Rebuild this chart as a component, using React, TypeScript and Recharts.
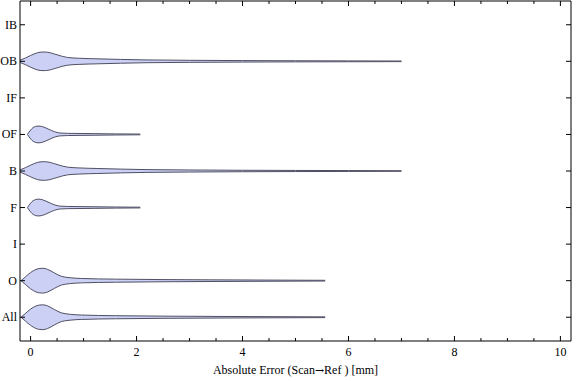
import React from "react";
import { ComposedChart, Area, XAxis, YAxis, Label } from "recharts";

// category order, bottom to top (y = index + 1)
const categories = ["All", "O", "I", "F", "B", "OF", "IF", "OB", "IB"];

// violin outlines: x position -> half width (in category units)
const wideX = [-0.25, -0.1, 0, 0.08, 0.18, 0.26, 0.35, 0.45, 0.52, 0.6, 0.7, 0.9, 1.27, 1.7, 2.2, 3, 4, 5, 6, 7];
const wideW = [0, 0.09, 0.16, 0.21, 0.25, 0.255, 0.24, 0.2, 0.17, 0.135, 0.105, 0.085, 0.068, 0.052, 0.038, 0.028, 0.02, 0.015, 0.012, 0.008];

const narrowX = [-0.06, 0, 0.05, 0.14, 0.22, 0.33, 0.45, 0.55, 0.7, 1.2, 1.6, 2.07];
const narrowW = [0, 0.12, 0.19, 0.23, 0.215, 0.15, 0.075, 0.04, 0.03, 0.022, 0.015, 0.01];

const mediumX = [-0.18, -0.1, -0.05, 0.05, 0.15, 0.23, 0.32, 0.45, 0.58, 0.75, 0.96, 1.6, 2.5, 3.5, 4.5, 5.56];
const mediumW = [0, 0.1, 0.165, 0.27, 0.33, 0.34, 0.31, 0.21, 0.12, 0.08, 0.06, 0.042, 0.03, 0.022, 0.016, 0.01];

const violinShape: Record<string, [number[], number[]]> = {
  OB: [wideX, wideW],
  B: [wideX, wideW],
  OF: [narrowX, narrowW],
  F: [narrowX, narrowW],
  O: [mediumX, mediumW],
  All: [mediumX, mediumW],
};

const xTicks = [0, 0.5, 1, 1.5, 2, 2.5, 3, 3.5, 4, 4.5, 5, 5.5, 6, 6.5, 7, 7.5, 8, 8.5, 9, 9.5, 10];
const yTicks = [1, 2, 3, 4, 5, 6, 7, 8, 9];

const FONT = "'Liberation Serif', 'DejaVu Serif', serif";

// merge the outlines into one table keyed by x
function buildRows() {
  const map = new Map<number, any>();
  Object.keys(violinShape).forEach((cat) => {
    const [xs, ws] = violinShape[cat];
    const c = categories.indexOf(cat) + 1;
    xs.forEach((x, i) => {
      if (!map.has(x)) map.set(x, { x });
      map.get(x)[cat] = [c - ws[i], c + ws[i]];
    });
  });
  return Array.from(map.values()).sort((a, b) => a.x - b.x);
}

const rows = buildRows();

const BottomTick = (props: any) => {
  const { x, y, payload } = props;
  const v = payload.value;
  const major = v % 2 === 0;
  return (
    <g>
      <line x1={x} x2={x} y1={y} y2={y - (major ? 5 : 3)} stroke="#000" />
      {major && (
        <text x={x} y={y + 15} textAnchor="middle" fontFamily={FONT} fontSize={12} fill="#000">
          {v}
        </text>
      )}
    </g>
  );
};

const TopTick = (props: any) => {
  const { x, y, payload } = props;
  const major = payload.value % 2 === 0;
  return <line x1={x} x2={x} y1={y} y2={y + (major ? 5 : 3)} stroke="#000" />;
};

const LeftTick = (props: any) => {
  const { x, y, payload } = props;
  return (
    <g>
      <line x1={x} x2={x + 5} y1={y} y2={y} stroke="#000" />
      <text x={x - 3} y={y + 4} textAnchor="end" fontFamily={FONT} fontSize={12} fill="#000">
        {categories[payload.value - 1]}
      </text>
    </g>
  );
};

const RightTick = (props: any) => {
  const { x, y } = props;
  return <line x1={x} x2={x - 5} y1={y} y2={y} stroke="#000" />;
};

const AxisTitle = (props: any) => {
  const vb = props.viewBox;
  return (
    <text
      x={vb.x + vb.width / 2}
      y={vb.y + vb.height - 7}
      textAnchor="middle"
      fontFamily={FONT}
      fontSize={12}
      fill="#000"
    >
      Absolute Error (Scan<tspan fontFamily="'DejaVu Serif'" fontSize={11}>→</tspan>Ref ) [mm]
    </text>
  );
};

export default function App() {
  return (
    <div style={{ position: "absolute", left: 0, top: 0, background: "#fff" }}>
      <ComposedChart width={576} height={381} data={rows} margin={{ top: 0, right: 4, left: 19, bottom: 0 }}>
        <XAxis
          dataKey="x"
          type="number"
          domain={[-0.2, 10.2]}
          ticks={xTicks}
          interval={0}
          allowDataOverflow
          height={40}
          tickSize={0}
          tickMargin={0}
          tickLine={false}
          tick={<BottomTick />}
          stroke="#000"
        >
          <Label position="insideBottom" content={<AxisTitle />} />
        </XAxis>
        <XAxis
          xAxisId="top"
          orientation="top"
          dataKey="x"
          type="number"
          domain={[-0.2, 10.2]}
          ticks={xTicks}
          interval={0}
          allowDataOverflow
          height={1}
          tickSize={0}
          tickMargin={0}
          tickLine={false}
          tick={<TopTick />}
          stroke="#000"
        />
        <YAxis
          type="number"
          domain={[0.35, 9.65]}
          ticks={yTicks}
          interval={0}
          allowDataOverflow
          width={1}
          tickSize={0}
          tickMargin={0}
          tickLine={false}
          tick={<LeftTick />}
          stroke="#000"
        />
        <YAxis
          yAxisId="right"
          orientation="right"
          type="number"
          domain={[0.35, 9.65]}
          ticks={yTicks}
          interval={0}
          allowDataOverflow
          width={1}
          tickSize={0}
          tickMargin={0}
          tickLine={false}
          tick={<RightTick />}
          stroke="#000"
        />
        {Object.keys(violinShape).map((cat) => (
          <Area
            key={cat}
            dataKey={cat}
            type="monotone"
            connectNulls
            fill="#cbd0f4"
            fillOpacity={1}
            stroke="#505064"
            strokeWidth={1}
            dot={false}
            activeDot={false}
            isAnimationActive={false}
          />
        ))}
      </ComposedChart>
    </div>
  );
}
